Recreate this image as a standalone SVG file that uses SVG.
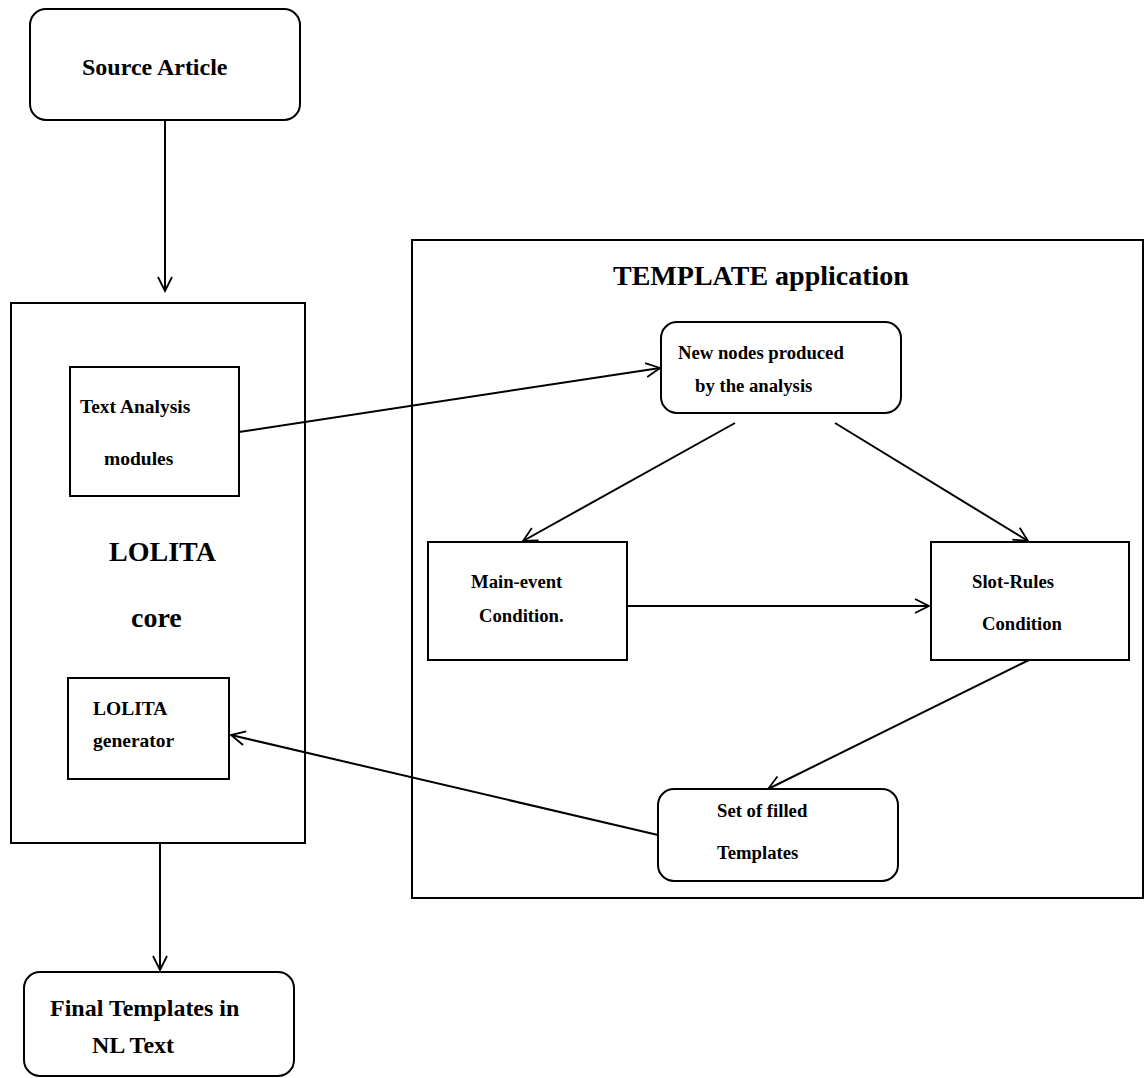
<svg xmlns="http://www.w3.org/2000/svg" width="1146" height="1078" viewBox="0 0 1146 1078">
  <style>
    .box { fill: none; stroke: #000; stroke-width: 2; }
    .lbl { font-family: "Liberation Serif", "Times New Roman", serif; font-weight: bold; fill: #000; }
    .s18 { font-size: 18.7px; }
    .s19 { font-size: 19.5px; }
    .s24 { font-size: 24px; }
    .s28 { font-size: 28px; }
    .edge { fill: none; stroke: #000; stroke-width: 2; }
  </style>
  <defs>
    <marker id="arrow" markerUnits="userSpaceOnUse" markerWidth="20" markerHeight="20" refX="15" refY="8" orient="auto">
      <path d="M1,1 L15,8 L1,15" fill="none" stroke="#000" stroke-width="1.8"/>
    </marker>
  </defs>
  <rect width="1146" height="1078" fill="#fff"/>

  <g id="source-article">
    <rect class="box" x="30" y="9" width="270" height="111" rx="16"/>
    <text class="lbl s24" x="82" y="75">Source Article</text>
  </g>

  <g id="lolita-core">
    <rect class="box" x="11" y="303" width="294" height="540"/>
    <text class="lbl s28" x="109" y="561">LOLITA</text>
    <text class="lbl s28" x="131" y="627">core</text>
  </g>

  <g id="text-analysis">
    <rect class="box" x="70" y="367" width="169" height="129"/>
    <text class="lbl s19" x="80" y="413">Text Analysis</text>
    <text class="lbl s19" x="104" y="465">modules</text>
  </g>

  <g id="lolita-generator">
    <rect class="box" x="68" y="678" width="161" height="101"/>
    <text class="lbl s19" x="93" y="715">LOLITA</text>
    <text class="lbl s19" x="93" y="747">generator</text>
  </g>

  <g id="final-templates">
    <rect class="box" x="24" y="972" width="270" height="104" rx="16"/>
    <text class="lbl s24" x="50" y="1016">Final Templates in</text>
    <text class="lbl s24" x="92" y="1053">NL Text</text>
  </g>

  <g id="template-application">
    <rect class="box" x="412" y="240" width="731" height="658"/>
    <text class="lbl s28" x="613" y="285">TEMPLATE application</text>
  </g>

  <g id="new-nodes">
    <rect class="box" x="661" y="322" width="240" height="91" rx="16"/>
    <text class="lbl s18" x="678" y="359">New nodes produced</text>
    <text class="lbl s18" x="695" y="392">by the analysis</text>
  </g>

  <g id="main-event">
    <rect class="box" x="428" y="542" width="199" height="118"/>
    <text class="lbl s18" x="471" y="588">Main-event</text>
    <text class="lbl s18" x="479" y="622">Condition.</text>
  </g>

  <g id="slot-rules">
    <rect class="box" x="931" y="542" width="198" height="118"/>
    <text class="lbl s18" x="972" y="588">Slot-Rules</text>
    <text class="lbl s18" x="982" y="630">Condition</text>
  </g>

  <g id="filled-templates">
    <rect class="box" x="658" y="789" width="240" height="92" rx="16"/>
    <text class="lbl s18" x="717" y="817">Set of filled</text>
    <text class="lbl s18" x="717" y="859">Templates</text>
  </g>

  <g id="connectors">
    <line class="edge" x1="165" y1="120" x2="165" y2="291" marker-end="url(#arrow)"/>
    <line class="edge" x1="239" y1="432" x2="660" y2="368" marker-end="url(#arrow)"/>
    <line class="edge" x1="735" y1="423" x2="523" y2="541" marker-end="url(#arrow)"/>
    <line class="edge" x1="835" y1="423" x2="1028" y2="541" marker-end="url(#arrow)"/>
    <line class="edge" x1="627" y1="606" x2="929" y2="606" marker-end="url(#arrow)"/>
    <line class="edge" x1="1029" y1="660" x2="768" y2="789" marker-end="url(#arrow)"/>
    <line class="edge" x1="658" y1="835" x2="231" y2="735" marker-end="url(#arrow)"/>
    <line class="edge" x1="160" y1="843" x2="160" y2="970" marker-end="url(#arrow)"/>
  </g>
</svg>
